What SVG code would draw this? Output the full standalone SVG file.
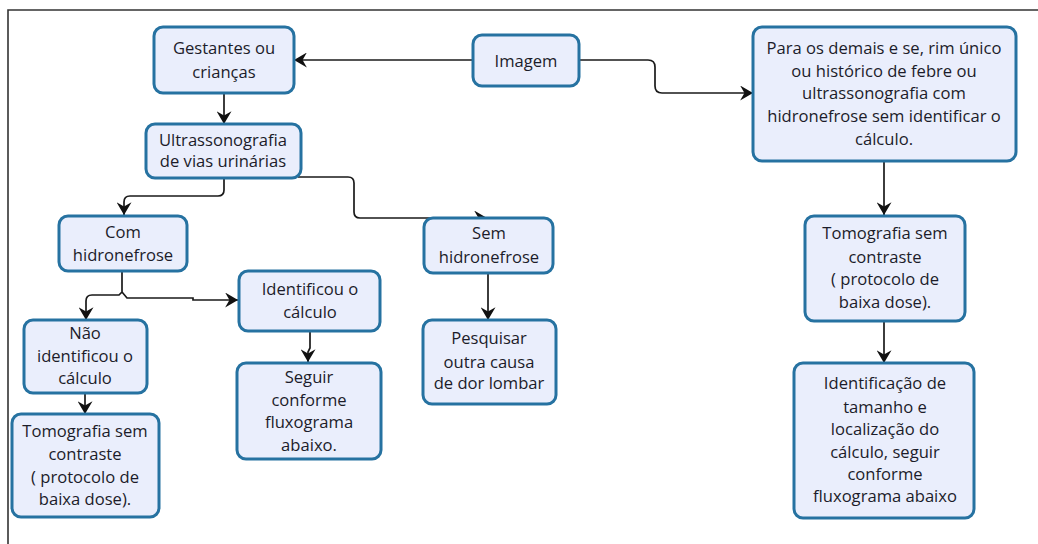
<svg xmlns="http://www.w3.org/2000/svg" width="1038" height="544" viewBox="0 0 1038 544">
<defs>
<style>
.box{fill:#eaeefc;stroke:#2672a1;stroke-width:3}
.t{font-family:"Open Sans","DejaVu Sans",sans-serif;font-size:16.6px;fill:#1c1c2a;text-anchor:middle}
.c{fill:none;stroke:#1a1a1a;stroke-width:1.7}
.frame{fill:none;stroke:#333;stroke-width:1.6}
</style>
<marker id="ah" viewBox="0 0 12 14" refX="12" refY="7" markerWidth="13" markerHeight="15" markerUnits="userSpaceOnUse" orient="auto">
<path d="M0,0 L12,7 L0,14 L4,7 z" fill="#111"/>
</marker>
</defs>
<rect width="1038" height="544" fill="#fff"/>
<path class="frame" d="M8,544 V10 H1038"/>
<g id="connectors">
<path class="c" marker-end="url(#ah)" d="M473,60 H294"/>
<path class="c" marker-end="url(#ah)" d="M579,60 H648 Q655,60 655,67 V86 Q655,93 662,93 H753"/>
<path class="c" marker-end="url(#ah)" d="M224,93 V124"/>
<path class="c" marker-end="url(#ah)" d="M224,178 V190 Q224,196 218,196 H130 Q124,196 124,202 V215"/>
<path class="c" marker-end="url(#ah)" d="M298,177 H348 Q354,177 354,183 V212 Q354,218 360,218 H487"/>
<path class="c" marker-end="url(#ah)" d="M122,271 V292 L119,295 H92 Q86,295 86,301 V320"/>
<path class="c" marker-end="url(#ah)" d="M122,292 L127,298 H193 V300 H238"/>
<path class="c" marker-end="url(#ah)" d="M310,331 V348 L308,352 V362"/>
<path class="c" marker-end="url(#ah)" d="M85,393 V414"/>
<path class="c" marker-end="url(#ah)" d="M488,273 V320"/>
<path class="c" marker-end="url(#ah)" d="M884,162 V215"/>
<path class="c" marker-end="url(#ah)" d="M884,321 V363"/>
</g>
<g id="gestantes"><rect class="box" x="154" y="27" width="140" height="66" rx="9"/>
<text class="t" x="224" y="54">Gestantes ou</text><text class="t" x="224" y="78">crianças</text></g>
<g id="imagem"><rect class="box" x="473" y="35" width="106" height="51" rx="9"/>
<text class="t" x="526" y="67">Imagem</text></g>
<g id="demais"><rect class="box" x="753" y="27" width="263" height="134" rx="9"/>
<text class="t" x="884" y="54">Para os demais e se, rim único</text>
<text class="t" x="884" y="77">ou histórico de febre ou</text>
<text class="t" x="884" y="99">ultrassonografia com</text>
<text class="t" x="884" y="122">hidronefrose sem identificar o</text>
<text class="t" x="884" y="145">cálculo.</text></g>
<g id="ultrassonografia"><rect class="box" x="146" y="124" width="155" height="54" rx="9"/>
<text class="t" x="223" y="146">Ultrassonografia</text><text class="t" x="223" y="167">de vias urinárias</text></g>
<g id="com"><rect class="box" x="59" y="216" width="128" height="55" rx="9"/>
<text class="t" x="123" y="238">Com</text><text class="t" x="123" y="261">hidronefrose</text></g>
<g id="sem"><rect class="box" x="424" y="218" width="129" height="55" rx="9"/>
<text class="t" x="489" y="239">Sem</text><text class="t" x="489" y="263">hidronefrose</text></g>
<g id="identificou"><rect class="box" x="239" y="271" width="141" height="60" rx="9"/>
<text class="t" x="310" y="295">Identificou o</text><text class="t" x="310" y="318">cálculo</text></g>
<g id="nao"><rect class="box" x="24" y="320" width="123" height="73" rx="9"/>
<text class="t" x="85" y="339">Não</text><text class="t" x="85" y="362">identificou o</text><text class="t" x="85" y="384">cálculo</text></g>
<g id="pesquisar"><rect class="box" x="423" y="320" width="133" height="84" rx="9"/>
<text class="t" x="489" y="344">Pesquisar</text><text class="t" x="489" y="368">outra causa</text><text class="t" x="489" y="389">de dor lombar</text></g>
<g id="seguir"><rect class="box" x="237" y="363" width="144" height="96" rx="9"/>
<text class="t" x="309" y="383">Seguir</text><text class="t" x="309" y="406">conforme</text><text class="t" x="309" y="428">fluxograma</text><text class="t" x="309" y="451">abaixo.</text></g>
<g id="tomografia-esq"><rect class="box" x="12" y="414" width="147" height="103" rx="9"/>
<text class="t" x="85" y="437">Tomografia sem</text><text class="t" x="85" y="460">contraste</text><text class="t" x="85" y="483">( protocolo de</text><text class="t" x="85" y="505">baixa dose).</text></g>
<g id="tomografia-dir"><rect class="box" x="805" y="216" width="160" height="105" rx="9"/>
<text class="t" x="885" y="239">Tomografia sem</text><text class="t" x="885" y="263">contraste</text><text class="t" x="885" y="285">( protocolo de</text><text class="t" x="885" y="308">baixa dose).</text></g>
<g id="identificacao"><rect class="box" x="794" y="363" width="180" height="155" rx="9"/>
<text class="t" x="885" y="389">Identificação de</text><text class="t" x="885" y="413">tamanho e</text><text class="t" x="885" y="435">localização do</text><text class="t" x="885" y="458">cálculo, seguir</text><text class="t" x="885" y="480">conforme</text><text class="t" x="885" y="502">fluxograma abaixo</text></g>
</svg>
